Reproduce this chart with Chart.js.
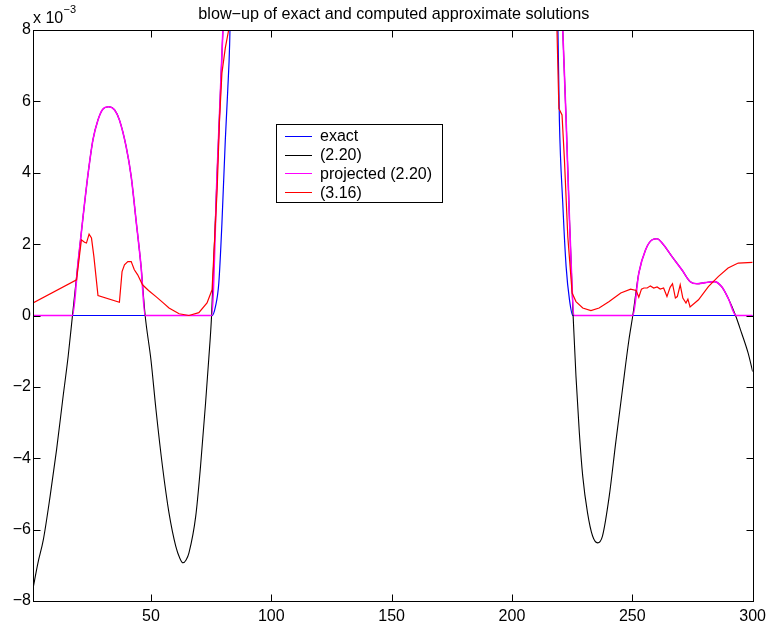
<!DOCTYPE html>
<html lang="en">
<head>
    <meta charset="UTF-8">
    <title>blow-up of exact and computed approximate solutions</title>
    <script src="https://cdn.jsdelivr.net/npm/chart.js@4.4.1/dist/chart.umd.min.js"></script>
    <style>
        body {
            margin: 0;
            background: #fff;
        }
        #wrap {
            width: 772px;
            height: 629px;
        }
    </style>
</head>
<body>
    <div id="wrap"><canvas id="solChart" width="772" height="629"></canvas></div>

    <script>
        // values in units of 1e-3
        const titleText = 'blow\u2212up of exact and computed approximate solutions';
        const seriesLabels = ['exact', '(2.20)', 'projected (2.20)', '(3.16)'];
        const seriesColors = ['#0000ff', '#000000', '#ff00ff', '#ff0000'];
        const xTicks = [50, 100, 150, 200, 250, 300];
        const yTicks = [-8, -6, -4, -2, 0, 2, 4, 6, 8];

        const exactX = [1, 75.4, 76.8, 78.2, 79.5, 80.9, 81.9, 82.7, 84, 217, 218.4, 219.1, 219.7, 221.1, 222.5, 223.9, 225.3, 300];
        const exactY = [0, 0, 0.25, 0.91, 2.59, 4.92, 6.3, 7.6, 12, 12, 9.5, 8, 5.48, 3.15, 1.37, 0.44, 0, 0];

        const eq220X = [1, 3, 5.3, 8.1, 10.8, 13.5, 15.6, 17.4, 19.7, 21.8, 23.9, 25.9, 28, 30, 32.4, 34.9, 36.9, 39.7, 41.8, 43.8, 45.9,
            47.6, 50, 52.1, 54.8, 57.5, 60.3, 62, 63.3, 64.6, 65.8, 68.6, 70.6, 72.7, 74, 75.2, 77.5, 79.9, 81.5,
            219.5, 221.1, 222.5, 223.9, 225.4, 226.6, 228, 229.4, 231.4, 233.5, 235.6, 237.6, 240.4, 243.1, 245.9, 248.6,
            250.2, 252.7, 255.5, 258.2, 260.3, 262.4, 266.5, 270.6, 274, 276.8, 280.2, 284.1, 287.1, 289.8, 292.9, 295.4, 298.1, 300];
        const eq220Y = [-7.65, -6.95, -6.28, -5.07, -3.76, -2.27, -1.15, 0, 1.47, 2.77, 3.98, 4.92, 5.48, 5.78, 5.85, 5.76, 5.48, 4.73, 3.89, 2.68, 1.37,
            0, -1.24, -2.64, -4.23, -5.53, -6.46, -6.8, -6.93, -6.85, -6.65, -5.63, -4.23, -2.45, -1.24, 0, 4, 8, 11,
            11, 8, 5.48, 2.68, 0, -1.71, -3.29, -4.5, -5.53, -6.18, -6.37, -6.18, -5.07, -3.57, -2.08, -0.68,
            0, 1.19, 1.84, 2.12, 2.15, 2.03, 1.65, 1.28, 0.95, 0.89, 0.92, 0.95, 0.81, 0.49, 0, -0.49, -1.05, -1.57];

        const projX = [1, 17.4, 19.7, 21.8, 23.9, 25.9, 28, 30, 32.4, 34.9, 36.9, 39.7, 41.8, 43.8, 45.9, 47.6, 75.2, 77.5, 79.9, 81.5,
            219.5, 221.1, 222.5, 223.9, 225.9, 250.2, 252.7, 255.5, 258.2, 260.3, 262.4, 266.5, 270.6, 274, 276.8, 280.2, 284.1,
            287.1, 289.8, 293.1, 300];
        const projY = [0, 0, 1.47, 2.77, 3.98, 4.92, 5.48, 5.78, 5.85, 5.76, 5.48, 4.73, 3.89, 2.68, 1.37, 0, 0, 4, 8, 11,
            11, 8, 5.48, 2.68, 0, 0, 1.19, 1.84, 2.12, 2.15, 2.03, 1.65, 1.28, 0.95, 0.89, 0.92, 0.95,
            0.81, 0.49, 0, 0];

        const eq316X = [1, 19.1, 21.1, 22.4, 23.2, 24.3, 25.3, 26.3, 28, 36.9, 38, 39, 40.4, 41.8, 43.1, 44.5, 46.5, 49, 52.1, 55,
            57.5, 61.7, 65.8, 69.9, 73.3, 75.4, 77.5, 78.5, 79.5, 80.9, 82.3, 84,
            218, 218.7, 219.5, 220.8, 221.8, 223.2, 225, 226.6, 229.4, 232.8, 236.2, 240.4, 245.2, 249.3, 251.6, 252.7, 253.8,
            254.8, 256.2, 257.5, 258.9, 260.3, 261.6, 263, 264.4, 265.7, 266.7, 267.9, 268.7, 269.9, 271, 272.3, 273.1, 274,
            277.5, 281.6, 285.7, 289.8, 294, 300];
        const eq316Y = [0.35, 1.0, 2.12, 2.05, 2.03, 2.28, 2.17, 1.65, 0.56, 0.37, 1.23, 1.42, 1.51, 1.51, 1.28, 1.14, 0.86, 0.7, 0.53, 0.36,
            0.21, 0.05, 0, 0.08, 0.35, 0.72, 3.52, 5.5, 6.8, 7.5, 8.0, 9,
            9, 8, 5.8, 5.62, 4.36, 2.21, 0.63, 0.39, 0.21, 0.14, 0.21, 0.39, 0.63, 0.74, 0.7, 0.51, 0.74,
            0.77, 0.77, 0.83, 0.77, 0.8, 0.74, 0.77, 0.53, 0.79, 0.89, 0.49, 0.53, 0.86, 0.49, 0.35, 0.46, 0.24,
            0.44, 0.81, 1.09, 1.33, 1.47, 1.49];

        const FONT = '"Liberation Sans", Arial, Helvetica, sans-serif';

        function pts(xs, ys) {
            return xs.map((x, i) => ({ x: x, y: ys[i] }));
        }

        // frame, inward ticks, title, exponent and boxed legend (matlab look)
        const matlabDecor = {
            id: 'matlabDecor',
            afterDraw(chart) {
                const ctx = chart.ctx;
                const a = chart.chartArea;
                const xs = chart.scales.x, ys = chart.scales.y;
                const L = Math.round(a.left) + 0.5, R = Math.round(a.right) + 0.5;
                const T = Math.round(a.top) + 0.5, B = Math.round(a.bottom) + 0.5;
                ctx.save();
                ctx.strokeStyle = '#000';
                ctx.lineWidth = 1;
                ctx.strokeRect(L, T, R - L, B - T);
                ctx.beginPath();
                xTicks.forEach(v => {
                    const p = Math.round(xs.getPixelForValue(v)) + 0.5;
                    ctx.moveTo(p, B); ctx.lineTo(p, B - 7);
                    ctx.moveTo(p, T); ctx.lineTo(p, T + 7);
                });
                yTicks.forEach(v => {
                    const p = Math.round(ys.getPixelForValue(v)) + 0.5;
                    ctx.moveTo(L, p); ctx.lineTo(L + 7, p);
                    ctx.moveTo(R, p); ctx.lineTo(R - 7, p);
                });
                ctx.stroke();

                ctx.fillStyle = '#000';
                ctx.textBaseline = 'alphabetic';
                ctx.font = '16.2px ' + FONT;
                ctx.textAlign = 'center';
                ctx.fillText(titleText, (a.left + a.right) / 2 + 1, 18.5);
                ctx.font = '16px ' + FONT;
                ctx.textAlign = 'left';
                ctx.fillText('x 10', a.left, 22.5);
                ctx.font = '11px ' + FONT;
                ctx.fillText('\u22123', a.left + 30.5, 13);

                // legend box
                const bx = 276.5, by = 124.5, bw = 166, bh = 78;
                ctx.fillStyle = '#fff';
                ctx.fillRect(bx, by, bw, bh);
                ctx.strokeRect(bx, by, bw, bh);
                ctx.font = '16px ' + FONT;
                ctx.textBaseline = 'middle';
                chart.data.datasets.forEach((ds, i) => {
                    const yy = 136 + i * 18.7;
                    ctx.strokeStyle = ds.borderColor;
                    ctx.beginPath();
                    ctx.moveTo(285, Math.round(yy) + 0.5);
                    ctx.lineTo(312, Math.round(yy) + 0.5);
                    ctx.stroke();
                    ctx.fillStyle = '#000';
                    ctx.fillText(ds.label, 320, yy + 1);
                });
                ctx.restore();
            }
        };

        const seriesData = [pts(exactX, exactY), pts(eq220X, eq220Y), pts(projX, projY), pts(eq316X, eq316Y)];
        const drawOrder = [4, 3, 2, 1];
        const widths = [1.2, 1.1, 1.6, 1.2];
        const smooth = ['monotone', 'monotone', 'monotone', 'default'];

        new Chart(document.getElementById('solChart').getContext('2d'), {
            type: 'line',
            data: {
                datasets: seriesLabels.map((lab, i) => ({
                    label: lab,
                    data: seriesData[i],
                    borderColor: seriesColors[i],
                    backgroundColor: seriesColors[i],
                    borderWidth: widths[i],
                    pointRadius: 0,
                    tension: 0,
                    cubicInterpolationMode: smooth[i],
                    fill: false,
                    order: drawOrder[i]
                }))
            },
            options: {
                responsive: false,
                animation: false,
                devicePixelRatio: 1,
                layout: { padding: { top: 30, right: 14, left: 0, bottom: 0 } },
                plugins: {
                    legend: { display: false },
                    title: { display: false },
                    tooltip: { enabled: false }
                },
                scales: {
                    x: {
                        type: 'linear',
                        min: 1,
                        max: 300,
                        afterBuildTicks: s => { s.ticks = xTicks.map(v => ({ value: v })); },
                        afterFit: s => { s.height = 28; },
                        grid: { display: false, drawTicks: false },
                        border: { display: false },
                        ticks: {
                            color: '#000',
                            padding: 6,
                            maxRotation: 0,
                            font: { family: FONT, size: 16 }
                        }
                    },
                    y: {
                        min: -8,
                        max: 8,
                        afterBuildTicks: s => { s.ticks = yTicks.map(v => ({ value: v })); },
                        afterFit: s => { s.width = 33; },
                        grid: { display: false, drawTicks: false },
                        border: { display: false },
                        ticks: {
                            color: '#000',
                            padding: 2,
                            font: { family: FONT, size: 16 },
                            callback: v => (v < 0 ? '\u2212' + Math.abs(v) : String(v))
                        }
                    }
                }
            },
            plugins: [matlabDecor]
        });
    </script>
</body>
</html>
